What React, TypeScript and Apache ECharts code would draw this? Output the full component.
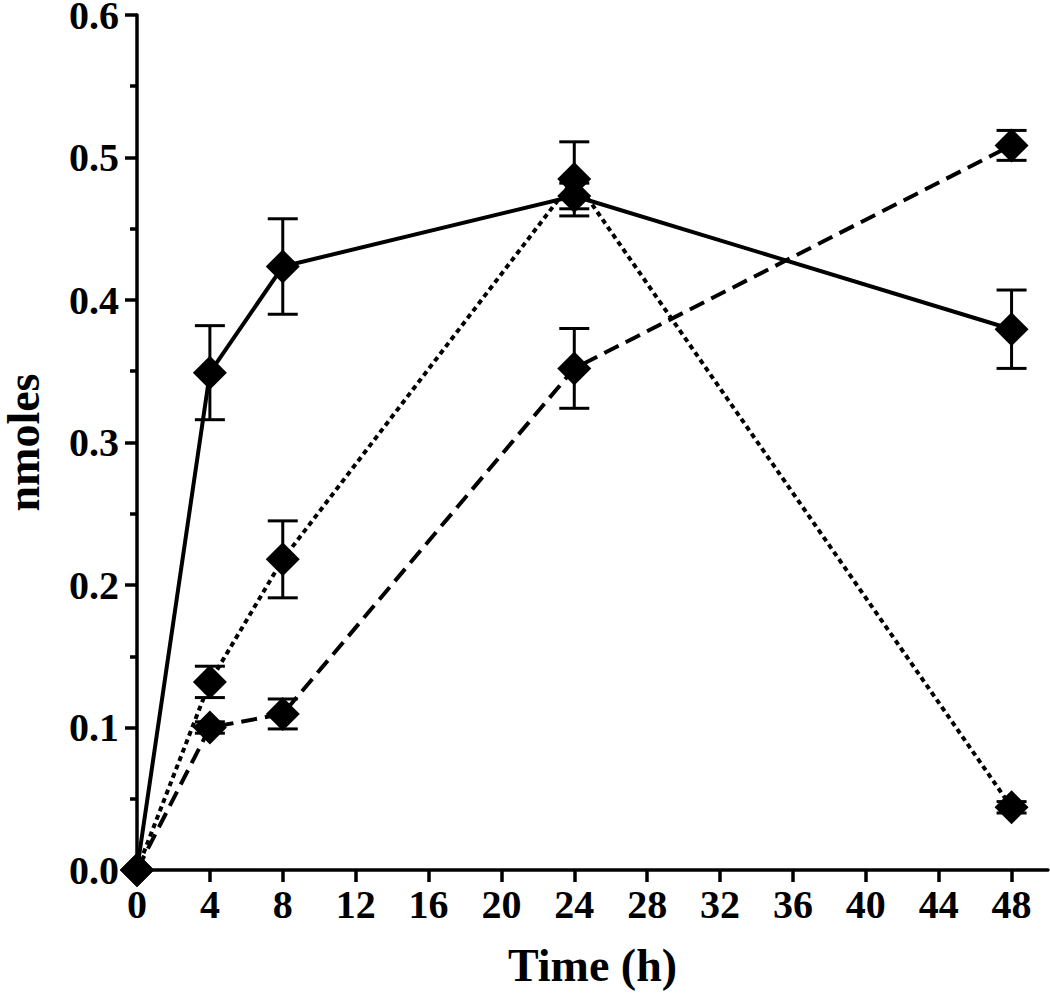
import React, { useEffect, useRef } from "react";
import * as echarts from "echarts";

const hours = [0, 4, 8, 24, 48];
const xTickValues = [0, 4, 8, 12, 16, 20, 24, 28, 32, 36, 40, 44, 48];

const solidMean = [0, 0.349, 0.4235, 0.473, 0.3795];
const solidErr = [0, 0.033, 0.0335, 0.009, 0.0275];

const dottedMean = [0, 0.132, 0.218, 0.485, 0.044];
const dottedErr = [0, 0.011, 0.027, 0.026, 0.004];

const dashedMean = [0, 0.1, 0.1095, 0.352, 0.5085];
const dashedErr = [0, 0.004, 0.0105, 0.028, 0.0105];

const FONT = "'Liberation Serif', 'Times New Roman', serif";

function errData(mean: number[], err: number[]) {
  return hours.map((h, i) => [h, mean[i] - err[i], mean[i] + err[i]]);
}

function lineData(mean: number[]) {
  return hours.map((h, i) => [h, mean[i]]);
}

const errorRender = (params: any, api: any) => {
  const x = api.value(0);
  const lo = api.coord([x, api.value(1)]);
  const hi = api.coord([x, api.value(2)]);
  const hw = 15;
  const style = { stroke: "#000", lineWidth: 3 };
  return {
    type: "group",
    children: [
      { type: "line", shape: { x1: lo[0], y1: lo[1], x2: hi[0], y2: hi[1] }, style },
      { type: "line", shape: { x1: lo[0] - hw, y1: lo[1], x2: lo[0] + hw, y2: lo[1] }, style },
      { type: "line", shape: { x1: hi[0] - hw, y1: hi[1], x2: hi[0] + hw, y2: hi[1] }, style },
    ],
  };
};

export default function App() {
  const ref = useRef<HTMLDivElement>(null);
  useEffect(() => {
    document.body.style.margin = "0";
    const chart = echarts.init(ref.current!, null, { renderer: "svg" });
    const mkLine = (name: string, mean: number[], type: any, width: number) => ({
      name,
      type: "line",
      data: lineData(mean),
      symbol: "diamond",
      symbolSize: 34,
      showSymbol: true,
      itemStyle: { color: "#000" },
      lineStyle: { color: "#000", width, type },
      z: 3,
    });
    const mkErr = (name: string, mean: number[], err: number[]) => ({
      name: name + " err",
      type: "custom",
      renderItem: errorRender,
      data: errData(mean, err),
      z: 2,
    });
    chart.setOption({
      animation: false,
      backgroundColor: "#fff",
      grid: { left: 137, right: 2, top: 15, bottom: 126, containLabel: false, outerBoundsMode: "none" },
      xAxis: {
        type: "value",
        min: 0,
        max: 50,
        interval: 4,
        name: "Time (h)",
        nameLocation: "middle",
        nameGap: 72,
        nameTextStyle: { fontFamily: FONT, fontWeight: "bold", fontSize: 46, color: "#000" },
        axisLine: { show: true, onZero: false, lineStyle: { color: "#000", width: 3.5 } },
        axisTick: { show: true, length: 12, customValues: xTickValues, lineStyle: { color: "#000", width: 3.5 } },
        axisLabel: {
          customValues: xTickValues,
          margin: 14,
          fontFamily: FONT,
          fontWeight: "bold",
          fontSize: 40,
          color: "#000",
        },
        splitLine: { show: false },
      },
      yAxis: {
        type: "value",
        min: 0,
        max: 0.6,
        interval: 0.1,
        name: "nmoles",
        nameLocation: "middle",
        nameGap: 96,
        nameTextStyle: { fontFamily: FONT, fontWeight: "bold", fontSize: 46, color: "#000", lineHeight: 36 },
        axisLine: { show: true, lineStyle: { color: "#000", width: 3.5 } },
        axisTick: { show: true, length: 12, lineStyle: { color: "#000", width: 3.5 } },
        minorTick: { show: true, splitNumber: 2, length: 7, lineStyle: { color: "#000", width: 3.5 } },
        axisLabel: {
          margin: 18,
          fontFamily: FONT,
          fontWeight: "bold",
          fontSize: 40,
          lineHeight: 28,
          color: "#000",
          formatter: (v: number) => v.toFixed(1),
        },
        splitLine: { show: false },
        minorSplitLine: { show: false },
      },
      series: [
        mkErr("Solid", solidMean, solidErr),
        mkErr("Dotted", dottedMean, dottedErr),
        mkErr("Dashed", dashedMean, dashedErr),
        mkLine("Solid", solidMean, "solid", 4),
        mkLine("Dotted", dottedMean, [5, 4], 4),
        mkLine("Dashed", dashedMean, [16, 8], 4),
      ],
    });
    return () => chart.dispose();
  }, []);
  return <div ref={ref} style={{ width: 1050, height: 996 }} />;
}
